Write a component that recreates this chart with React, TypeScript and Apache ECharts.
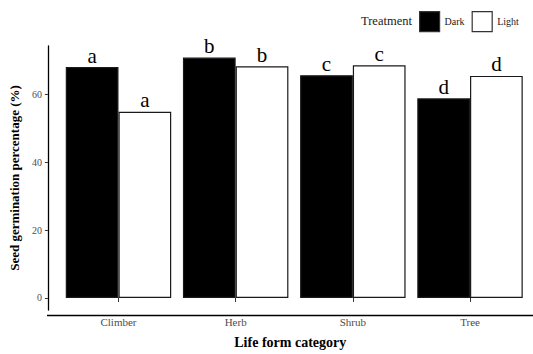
import React, { useEffect, useRef } from "react";
import * as echarts from "echarts";

const categories = ["Climber", "Herb", "Shrub", "Tree"];
const darkValues = [68.0, 70.8, 65.6, 58.8];
const lightValues = [54.8, 68.2, 68.5, 65.4];
const darkLetters = ["a", "b", "c", "d"];
const lightLetters = ["a", "b", "c", "d"];
const yTicks = [0, 20, 40, 60];

const FONT = "'Liberation Serif', 'DejaVu Serif', serif";

export default function App() {
  const ref = useRef<HTMLDivElement>(null);
  useEffect(() => {
    if (!ref.current) return;
    const chart = echarts.init(ref.current, null, { renderer: "svg" });
    const gridLeft = 59;
    const gridTop = 46;
    const gridBottom = 38.5;
    const axisY = 354 - gridBottom;
    const letterLabel = (letters: string[]) => ({
      show: true,
      position: "top",
      distance: 1,
      formatter: (p: any) => letters[p.dataIndex],
      fontFamily: FONT,
      fontSize: 21,
      color: "#000",
    });
    chart.setOption({
      animation: false,
      backgroundColor: "#fff",
      grid: { left: gridLeft, right: 4.4, top: gridTop, bottom: gridBottom, containLabel: false },
      legend: {
        left: 419,
        top: 11,
        padding: 0,
        itemWidth: 20,
        itemHeight: 20,
        itemGap: 7,
        icon: "rect",
        textStyle: { fontFamily: FONT, fontSize: 10, color: "#1a1a1a" },
        data: [
          { name: "Dark", itemStyle: { color: "#000", borderColor: "#333", borderWidth: 1.2 } },
          { name: "Light", itemStyle: { color: "#fff", borderColor: "#333", borderWidth: 1.2 } },
        ],
      },
      graphic: [
        {
          type: "text",
          left: 361,
          top: 14,
          style: { text: "Treatment", fontFamily: FONT, fontSize: 12.5, fill: "#1a1a1a" },
        },
        {
          type: "line",
          shape: { x1: 47, y1: axisY, x2: 533, y2: axisY },
          style: { stroke: "#000", lineWidth: 1.3 },
        },
      ],
      xAxis: {
        type: "category",
        data: categories,
        axisLine: { show: false },
        axisTick: { show: true, alignWithLabel: true, length: 4, lineStyle: { color: "#333" } },
        axisLabel: { fontFamily: FONT, fontSize: 11, color: "#4d4d4d", margin: 6 },
        name: "Life form category",
        nameLocation: "middle",
        nameGap: 25,
        nameTextStyle: { fontFamily: FONT, fontSize: 14, fontWeight: "bold", color: "#000", padding: [0, 8, 0, 0] },
      },
      yAxis: {
        type: "value",
        min: -3.55,
        max: 74.2,
        offset: 12,
        splitLine: { show: false },
        axisLine: { show: true, lineStyle: { color: "#000", width: 1.3 } },
        axisTick: { show: true, length: 3, customValues: yTicks, lineStyle: { color: "#333" } },
        axisLabel: { fontFamily: FONT, fontSize: 10, color: "#4d4d4d", margin: 6, customValues: yTicks },
        name: "Seed germination percentage (%)",
        nameLocation: "middle",
        nameGap: 24,
        nameTextStyle: { fontFamily: FONT, fontSize: 13, fontWeight: "bold", color: "#000" },
      },
      series: [
        {
          name: "Dark",
          type: "bar",
          data: darkValues,
          barWidth: "45%",
          barGap: "0%",
          itemStyle: { color: "#000", borderColor: "#1a1a1a", borderWidth: 1.2 },
          label: letterLabel(darkLetters),
        },
        {
          name: "Light",
          type: "bar",
          data: lightValues,
          barWidth: "45%",
          barGap: "0%",
          itemStyle: { color: "#fff", borderColor: "#1a1a1a", borderWidth: 1.2 },
          label: letterLabel(lightLetters),
        },
      ],
    });
    return () => chart.dispose();
  }, []);
  return (
    <div
      ref={ref}
      style={{ position: "fixed", left: 0, top: 0, width: 533, height: 354 }}
    />
  );
}
